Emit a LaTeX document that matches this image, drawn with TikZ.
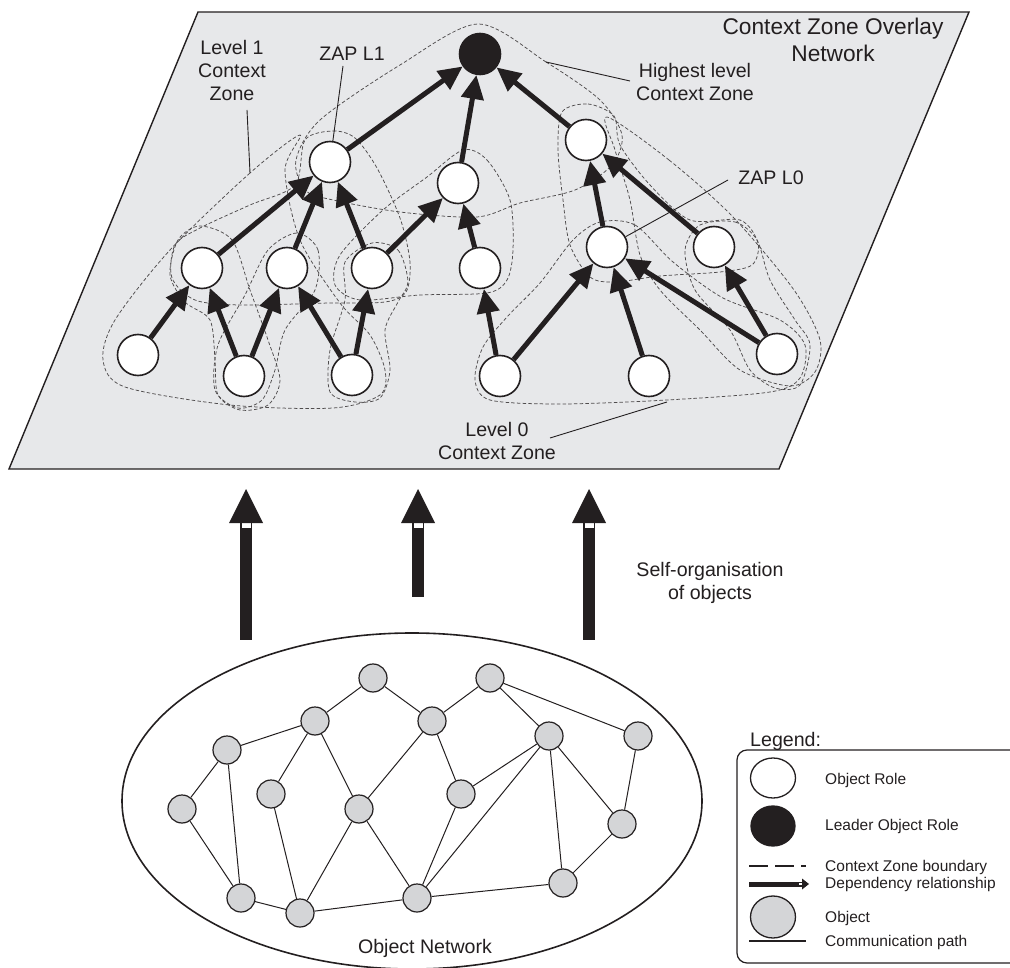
\documentclass[tikz,border=0pt]{standalone}
\usepackage{fontspec}
\setmainfont{Liberation Sans}
\usetikzlibrary{arrows.meta,shapes.geometric}
\definecolor{planegray}{RGB}{231,232,234}
\definecolor{objgray}{RGB}{212,213,215}
\definecolor{ink}{RGB}{35,31,32}

\begin{document}
\begin{tikzpicture}[x=1pt,y=-1pt,
    role/.style={circle,draw=ink,fill=white,line width=1.6pt,minimum size=41pt,inner sep=0pt},
    leader/.style={role,fill=ink},
    obj/.style={circle,draw=ink,fill=objgray,line width=1.2pt,minimum size=28pt,inner sep=0pt},
    dep/.style={draw=ink,line width=5pt,-{Triangle[length=24pt,width=22pt]}},
    link/.style={draw=ink,line width=1pt},
    zone/.style={draw=ink!80,line width=0.75pt,dash pattern=on 3.5pt off 2.2pt},
    pointer/.style={draw=ink,line width=0.9pt},
    lbl/.style={font=\fontsize{19.6}{23}\selectfont,align=center,inner sep=0pt,text=ink},
    ttl/.style={font=\fontsize{22.7}{27}\selectfont,align=center,inner sep=0pt,text=ink},
    keytxt/.style={font=\fontsize{15.5}{17}\selectfont,anchor=base west,inner sep=0pt,text=ink}]

\useasboundingbox (0,0) rectangle (1010,968);

% overlay plane
\filldraw[fill=planegray,draw=ink,line width=1.4pt] (198,12) -- (969,12) -- (779,469) -- (9,469) -- cycle;

% context zones
\draw[zone] plot[smooth cycle] coordinates {(478,24) (546,62) (600,100) (622,135) (612,165) (575,190) (520,203) (477,217) (400,212) (333,200) (305,190) (296,160) (320,120) (400,65)};
\draw[zone] plot[smooth cycle] coordinates {(300,135) (250,173) (170,250) (115,320) (103,360) (125,387) (230,405) (333,408) (380,395) (385,370) (370,335) (340,303) (300,240) (285,170)};
\draw[zone] plot[smooth cycle] coordinates {(607,117) (669,160) (733,217) (794,290) (820,340) (815,372) (790,386) (740,370) (700,330) (660,290) (640,255) (630,200) (615,150)};
\draw[zone] plot[smooth cycle] coordinates {(305,140) (333,131) (355,138) (377,168) (400,218) (410,262) (406,292) (385,302) (330,303) (240,305) (195,300) (172,278) (175,245) (200,228) (250,205) (295,185)};
\draw[zone] plot[smooth cycle] coordinates {(463,150) (487,160) (510,200) (513,250) (507,280) (487,293) (420,295) (360,300) (335,285) (340,255) (383,210) (427,177)};
\draw[zone] plot[smooth cycle] coordinates {(200,226) (232,240) (250,290) (268,340) (280,380) (268,405) (240,410) (218,395) (215,360) (210,320) (185,302) (170,275) (178,240)};
\draw[zone] plot[smooth cycle] coordinates {(297,233) (318,250) (315,290) (285,330) (275,370) (262,400) (238,408) (215,390) (218,345) (245,295) (268,250)};
\draw[zone] plot[smooth cycle] coordinates {(372,243) (398,250) (408,282) (398,302) (385,330) (390,370) (380,398) (355,402) (330,392) (330,350) (345,300) (345,262)};
\draw[zone] plot[smooth cycle] coordinates {(562,112) (588,104) (614,116) (620,145) (650,185) (690,220) (740,220) (758,243) (752,265) (720,272) (660,276) (615,282) (590,277) (570,245) (563,200) (558,150)};
\draw[zone] plot[smooth cycle] coordinates {(700,225) (735,222) (757,240) (770,280) (795,320) (810,345) (800,385) (775,388) (750,370) (730,330) (695,290) (685,250)};
\draw[zone] plot[smooth cycle] coordinates {(600,222) (635,225) (673,262) (723,298) (780,320) (805,345) (800,378) (770,392) (667,400) (560,404) (490,400) (475,380) (483,347) (507,317) (540,283) (573,240)};

% object roles
\node[leader] (lead) at (480,54) {};
\node[role] (zapone) at (330,162) {};
\node[role] (hub) at (458,183) {};
\node[role] (rtop) at (586,140) {};
\node[role] (p1) at (202,268) {};
\node[role] (p2) at (287,268) {};
\node[role] (p3) at (372,268) {};
\node[role] (p4) at (480,268) {};
\node[role] (zapzero) at (607,247) {};
\node[role] (p6) at (714,247) {};
\node[role] (q1) at (138,355) {};
\node[role] (q2) at (244,376) {};
\node[role] (q3) at (352,375) {};
\node[role] (q4) at (500,376) {};
\node[role] (q5) at (649,376) {};
\node[role] (q6) at (777,354) {};

% dependency relationships
\draw[dep] (zapone) -- (lead);
\draw[dep] (hub) -- (lead);
\draw[dep] (rtop) -- (lead);
\draw[dep] (p1) -- (zapone);
\draw[dep] (p2) -- (zapone);
\draw[dep] (p3) -- (zapone);
\draw[dep] (p3) -- (hub);
\draw[dep] (p4) -- (hub);
\draw[dep] (zapzero) -- (rtop);
\draw[dep] (p6) -- (rtop);
\draw[dep] (q1) -- (p1);
\draw[dep] (q2) -- (p1);
\draw[dep] (q2) -- (p2);
\draw[dep] (q3) -- (p2);
\draw[dep] (q3) -- (p3);
\draw[dep] (q4) -- (p4);
\draw[dep] (q4) -- (zapzero);
\draw[dep] (q5) -- (zapzero);
\draw[dep] (q6) -- (zapzero);
\draw[dep] (q6) -- (p6);

% labels on the plane
\node[ttl] (title) at (833,40) {Context Zone Overlay\\Network};
\node[lbl] (lvlone) at (232,70) {Level 1\\Context\\Zone};
\node[lbl] (zaplone) at (352,54) {ZAP L1};
\node[lbl] (highest) at (695,82) {Highest level\\Context Zone};
\node[lbl] (zaplzero) at (771,178) {ZAP L0};
\node[lbl] (lvlzero) at (497,441) {Level 0\\Context Zone};

\coordinate (lvloneA) at (247,110);
\coordinate (lvloneB) at (250,173);
\coordinate (zaploneA) at (343,66);
\coordinate (highestA) at (630,81);
\coordinate (highestB) at (546,62);
\coordinate (zaplzeroA) at (728,180);
\coordinate (lvlzeroA) at (550,438);
\coordinate (lvlzeroB) at (667,402);
\draw[pointer] (lvloneA) -- (lvloneB);
\draw[pointer] (zaploneA) -- (zapone);
\draw[pointer] (highestA) -- (highestB);
\draw[pointer] (zaplzeroA) -- (zapzero);
\draw[pointer] (lvlzeroA) -- (lvlzeroB);

% self-organisation arrows
\foreach \x/\y in {246/640,418/597,589/640}{
  \fill[ink] ({\x-6.25},\y) rectangle ({\x+6.25},523);
  \fill[white] ({\x-4.5},528) rectangle ({\x+4.5},523);
  \fill[ink] ({\x-17},523) -- (\x,489) -- ({\x+17},523) -- cycle;
}
\node[lbl] (selforg) at (710,583) {Self-organisation\\of objects};

% object network
\node[draw=ink,line width=1.6pt,ellipse,minimum width=580pt,minimum height=336pt,inner sep=0pt] (objnet) at (412,801) {};
\node[obj] (o1) at (373,678) {};
\node[obj] (o2) at (490,678) {};
\node[obj] (o3) at (315,721) {};
\node[obj] (o4) at (432,721) {};
\node[obj] (o5) at (227,750) {};
\node[obj] (o6) at (549,736) {};
\node[obj] (o7) at (638,736) {};
\node[obj] (o8) at (182,809) {};
\node[obj] (o9) at (271,794) {};
\node[obj] (o10) at (359,809) {};
\node[obj] (o11) at (461,794) {};
\node[obj] (o12) at (622,824) {};
\node[obj] (o13) at (241,898) {};
\node[obj] (o14) at (300,913) {};
\node[obj] (o15) at (417,898) {};
\node[obj] (o16) at (563,883) {};
\foreach \a/\b in {o1/o3,o1/o4,o2/o4,o2/o6,o2/o7,o3/o5,o3/o9,o3/o10,o4/o10,o4/o11,
                   o5/o8,o5/o13,o8/o13,o9/o14,o10/o14,o10/o15,o11/o6,o11/o15,o6/o15,
                   o6/o12,o6/o16,o7/o12,o12/o16,o13/o14,o14/o15,o15/o16}
  \draw[link] (\a) -- (\b);
\node[lbl] (objlbl) at (425,948) {Object Network};

% legend
\node[lbl,anchor=west] (legend) at (750,741) {Legend:};
\begin{scope}
\clip (0,0) rectangle (1010,968);
\draw[ink,line width=1.2pt,rounded corners=10pt] (737,750) rectangle (1030,963);
\end{scope}
\node[role,ellipse,line width=1.3pt,minimum width=45pt,minimum height=40pt] (keyrole) at (773,778) {};
\node[leader,ellipse,line width=1.3pt,minimum width=44pt,minimum height=40pt] (keylead) at (773,826) {};
\draw[ink,line width=1.3pt,dash pattern=on 19pt off 7pt] (749,866) -- (806,866);
\fill[ink] (749,881.5) rectangle (802,886.5);
\fill[white] (799,882.6) rectangle (802,885.4);
\fill[ink] (802,878.5) -- (809,884) -- (802,889.5) -- cycle;
\node[obj,ellipse,line width=1.3pt,minimum width=45pt,minimum height=42pt] (keyobj) at (773,917) {};
\draw[ink,line width=1.2pt] (749,941) -- (806,941);
\node[keytxt] at (825,784) {Object Role};
\node[keytxt] at (825,830) {Leader Object Role};
\node[keytxt] at (825,871) {Context Zone boundary};
\node[keytxt] at (825,888) {Dependency relationship};
\node[keytxt] at (825,922) {Object};
\node[keytxt] at (825,946) {Communication path};
\end{tikzpicture}
\end{document}
